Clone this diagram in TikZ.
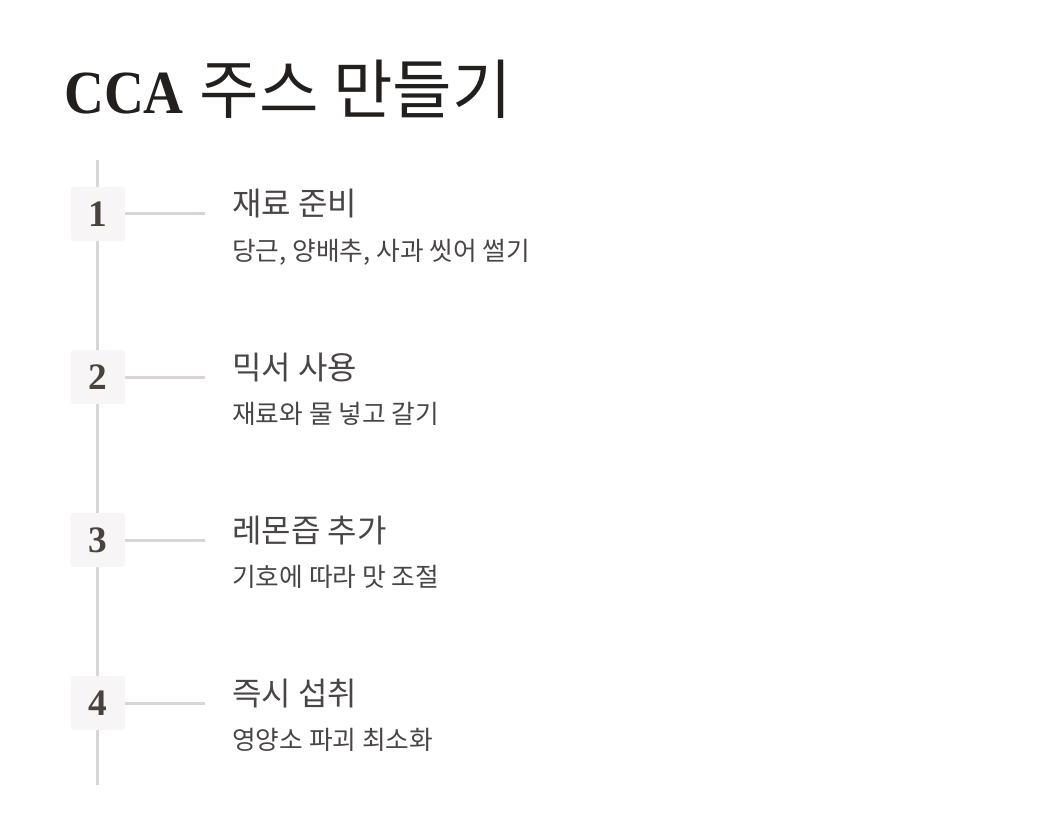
\documentclass[tikz,border=0pt]{standalone}
\usepackage{fontspec}
\newfontfamily\krfont{Noto Sans CJK KR}
\newfontfamily\numfont{Liberation Serif}
\newfontfamily\headserif[FakeStretch=0.9]{Liberation Serif}
\usetikzlibrary{positioning}
\definecolor{ink}{HTML}{231F1D}
\definecolor{textgray}{HTML}{4A4545}
\definecolor{numbrown}{HTML}{4A423C}
\definecolor{rail}{HTML}{D9D5D5}
\definecolor{boxfill}{HTML}{F7F5F5}

\begin{document}
\begin{tikzpicture}[
  x=0.75pt, y=-0.75pt,
  numbox/.style={rectangle, fill=boxfill, rounded corners=2pt,
                 minimum width=40.5pt, minimum height=40.5pt, inner sep=0pt,
                 font=\numfont\bfseries\fontsize{28}{30}\selectfont, text=numbrown},
  steptitle/.style={anchor=base west, inner sep=0pt, text=textgray,
                    font=\krfont\fontsize{24}{28}\selectfont},
  stepdesc/.style={anchor=base west, inner sep=0pt, text=textgray,
                   font=\krfont\fontsize{19.3}{23}\selectfont},
  line/.style={draw=rail, line width=2.25pt},
]
  \useasboundingbox (0,0) rectangle (1041,827);
  %% Heading
  \node[anchor=base west, inner sep=0pt, text=ink] (head) at (64,114)
       {{\headserif\bfseries\fontsize{46}{52}\selectfont CCA}\hspace{12pt}{\krfont\fontsize{48.5}{52}\selectfont 주스 만들기}};

  %% Rail behind the step boxes
  \coordinate (railtop) at (97,160);
  \coordinate (railbot) at (97,785);
  \draw[line] (railtop) -- (railbot);

  %% Step boxes
  \node[numbox] (box1) at (98,214) {1};
  \node[numbox] (box2) at (98,377) {2};
  \node[numbox] (box3) at (98,540) {3};
  \node[numbox] (box4) at (98,703) {4};

  %% Ticks from the boxes
  \coordinate (tick1) at (205,214);
  \coordinate (tick2) at (205,377);
  \coordinate (tick3) at (205,540);
  \coordinate (tick4) at (205,703);
  \draw[line] (box1.east) -- (tick1);
  \draw[line] (box2.east) -- (tick2);
  \draw[line] (box3.east) -- (tick3);
  \draw[line] (box4.east) -- (tick4);

  %% Step texts
  \node[steptitle] (title1) at (232,216) {재료 준비};
  \node[stepdesc]  (desc1)  at (232,260) {당근, 양배추, 사과 씻어 썰기};
  \node[steptitle] (title2) at (232,379) {믹서 사용};
  \node[stepdesc]  (desc2)  at (232,423) {재료와 물 넣고 갈기};
  \node[steptitle] (title3) at (232,542) {레몬즙 추가};
  \node[stepdesc]  (desc3)  at (232,586) {기호에 따라 맛 조절};
  \node[steptitle] (title4) at (232,705) {즉시 섭취};
  \node[stepdesc]  (desc4)  at (232,749) {영양소 파괴 최소화};
\end{tikzpicture}
\end{document}
